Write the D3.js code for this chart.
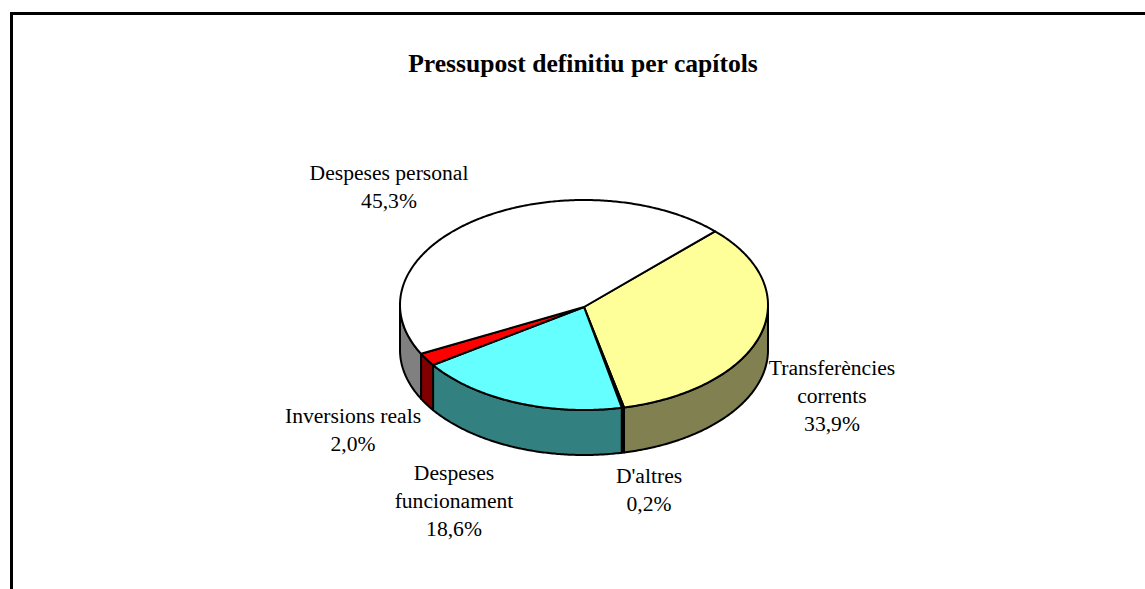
<!DOCTYPE html>
<html lang="ca">
<head>
<meta charset="utf-8">
<title>Pressupost definitiu per capítols</title>
<script src="https://cdn.jsdelivr.net/npm/d3@7"></script>
<style>
  html, body { margin: 0; padding: 0; background: #fff; overflow: hidden; }
  text { font-family: "Liberation Serif", serif; fill: #000; }
</style>
</head>
<body>
<div id="chart"></div>
<script>
// values, in pie order (clockwise from the first slice)
var categories = [["Transferències", "corrents"], ["D'altres"], ["Despeses", "funcionament"], ["Inversions reals"], ["Despeses personal"]];
var shares = [33.9, 0.2, 18.6, 2.0, 45.3];
var topColors = ["#ffff99", "#000000", "#66ffff", "#ff0000", "#ffffff"];
var sideColors = ["#808050", "#000000", "#338080", "#800000", "#808080"];
var chartTitle = "Pressupost definitiu per capítols";

// layout
var width = 1145, height = 589;
var cx = 584, cy = 305, rx = 184, ry = 105, depth = 45;
var apexDy = 2; // the apex sits a little below the ellipse centre in the original
var startDeg = 45.4;
// centre x and first baseline of each label, same order as categories
var labelAnchors = [[832, 375], [649, 483], [454, 480], [353, 423], [389, 180]];
var lineHeight = 28;

var svg = d3.select("#chart").append("svg")
  .attr("width", width)
  .attr("height", height);

svg.append("path")
  .attr("d", "M" + 11.5 + "," + height + "V13.5H" + width)
  .attr("fill", "none")
  .attr("stroke", "#000")
  .attr("stroke-width", 3);

svg.append("text")
  .attr("x", 583)
  .attr("y", 72)
  .attr("text-anchor", "middle")
  .attr("font-size", 25.6)
  .attr("font-weight", "bold")
  .text(chartTitle);

var pie = d3.pie().sort(null)
  .startAngle(startDeg * Math.PI / 180)
  .endAngle((startDeg + 360) * Math.PI / 180);
var slices = pie(shares);

// unit circle to squashed ellipse
var x = d3.scaleLinear().domain([-1, 1]).range([cx - rx, cx + rx]);
var y = d3.scaleLinear().domain([-1, 1]).range([cy - ry, cy + ry]);

function rim(a, dy) { return [x(Math.sin(a)), y(-Math.cos(a)) + dy]; }

function rimPoints(a0, a1, dy) {
  var n = Math.max(2, Math.ceil(Math.abs(a1 - a0) / 0.01));
  return d3.range(n + 1).map(function(i) { return rim(a0 + (a1 - a0) * i / n, dy); });
}

var line = d3.line();
var TAU = 2 * Math.PI;

// side wall: only the front half of the rim (90 to 270 degrees) shows
var g = svg.append("g").attr("stroke", "#000").attr("stroke-width", 2).attr("stroke-linejoin", "round");

slices.forEach(function(s, i) {
  [0, TAU].forEach(function(turn) {
    var a0 = Math.max(s.startAngle, Math.PI / 2 + turn);
    var a1 = Math.min(s.endAngle, 1.5 * Math.PI + turn);
    if (a1 <= a0) return;
    var pts = rimPoints(a0, a1, 0).concat(rimPoints(a1, a0, depth));
    g.append("path")
      .attr("d", line(pts) + "Z")
      .attr("fill", sideColors[i]);
  });
});

// top faces
slices.forEach(function(s, i) {
  var pts = [[x(0), y(0) + apexDy]].concat(rimPoints(s.startAngle, s.endAngle, 0));
  g.append("path")
    .attr("d", line(pts) + "Z")
    .attr("fill", topColors[i]);
});

// labels
categories.forEach(function(lines, i) {
  var t = svg.append("text")
    .attr("text-anchor", "middle")
    .attr("font-size", 21.6);
  lines.concat(d3.format(".1f")(shares[i]).replace(".", ",") + "%").forEach(function(l, k) {
    t.append("tspan")
      .attr("x", labelAnchors[i][0])
      .attr("y", labelAnchors[i][1] + k * lineHeight)
      .text(l);
  });
});
</script>
</body>
</html>
